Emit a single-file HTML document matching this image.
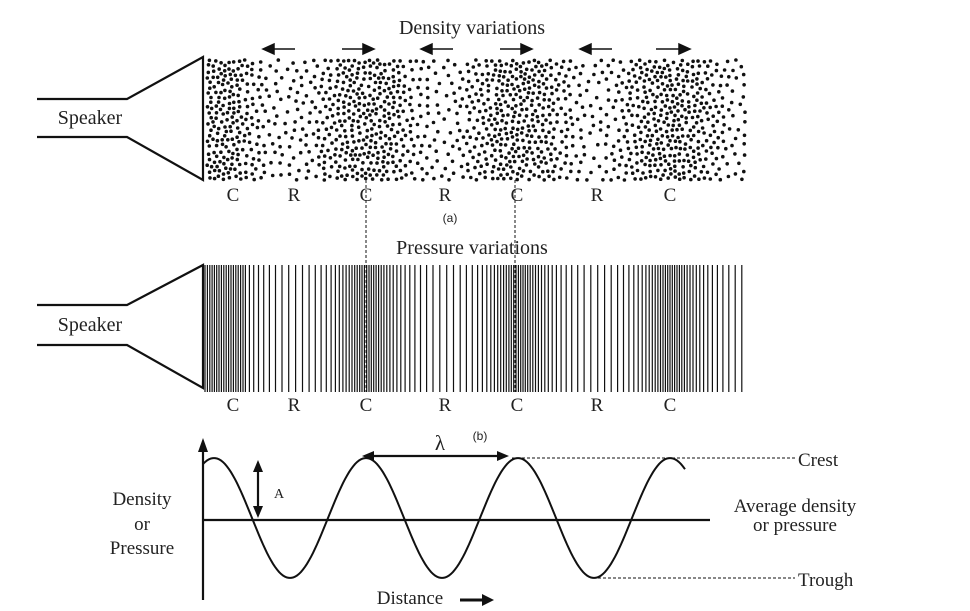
<!DOCTYPE html>
<html><head><meta charset="utf-8"><style>
html,body{margin:0;padding:0;background:#fff}
svg{display:block}
.s{font-family:"Liberation Serif",serif;fill:#222}
.a{font-family:"Liberation Sans",sans-serif;fill:#222;font-size:12px}
</style></head><body>
<svg id="sv" width="970" height="611" viewBox="0 0 970 611" xmlns="http://www.w3.org/2000/svg">
<g stroke="#111" stroke-width="2.2" fill="none">
<polyline points="37,99 127,99 203,57 203,180 127,137 37,137"/>
<polyline points="37,305 127,305 203,265 203,388 127,345 37,345"/>
<line x1="203" y1="445" x2="203" y2="600"/>
<line x1="203" y1="520" x2="710" y2="520"/>
<line x1="366" y1="456" x2="503" y2="456"/>
<line x1="258" y1="468" x2="258" y2="510"/>
<line x1="460" y1="600" x2="485" y2="600" stroke-width="3"/>
</g>
<g fill="#111">
<polygon points="203,438 198,452 208,452"/>
<polygon points="362,456 374,451 374,461"/>
<polygon points="509,456 497,451 497,461"/>
<polygon points="258,460 253,472 263,472"/>
<polygon points="258,518 253,506 263,506"/>
<polygon points="494,600 482,594 482,606"/>
</g>
<g stroke="#111" stroke-width="1" stroke-dasharray="3,2" fill="none">
<line x1="512" y1="458" x2="795" y2="458"/>
<line x1="598" y1="578" x2="795" y2="578"/>
<line x1="366" y1="180" x2="366" y2="392"/>
<line x1="515" y1="180" x2="515" y2="392"/>
</g>
<g id="dots" fill="#111"></g>
<g id="lines" stroke="#111" stroke-width="1.2"></g>
<path id="wave" fill="none" stroke="#111" stroke-width="2"/>
<g id="arr" stroke="#111" stroke-width="1.5" fill="#111"></g>
<text class="s" x="472" y="34" font-size="20" text-anchor="middle">Density variations</text>
<text class="s" x="472" y="254" font-size="20" text-anchor="middle">Pressure variations</text>
<text class="s" x="90" y="124" font-size="20" text-anchor="middle">Speaker</text>
<text class="s" x="90" y="331" font-size="20" text-anchor="middle">Speaker</text>
<g class="s" font-size="19" text-anchor="middle">
<text x="233" y="201">C</text><text x="294" y="201">R</text><text x="366" y="201">C</text><text x="445" y="201">R</text><text x="517" y="201">C</text><text x="597" y="201">R</text><text x="670" y="201">C</text>
<text x="233" y="411">C</text><text x="294" y="411">R</text><text x="366" y="411">C</text><text x="445" y="411">R</text><text x="517" y="411">C</text><text x="597" y="411">R</text><text x="670" y="411">C</text>
<text x="440" y="450" font-size="21">λ</text>
<text x="142" y="505">Density</text><text x="142" y="530">or</text><text x="142" y="554">Pressure</text>
<text x="795" y="512">Average density</text><text x="795" y="531">or pressure</text>
<text x="410" y="604">Distance</text>
</g>
<g class="s" font-size="19">
<text x="798" y="466">Crest</text><text x="798" y="586">Trough</text>
<text x="274" y="498" font-size="14">A</text>
</g>
<text class="a" x="450" y="222" text-anchor="middle">(a)</text>
<text class="a" x="480" y="440" text-anchor="middle">(b)</text>
</svg>
<script>
var ns="http://www.w3.org/2000/svg";
var seed=12345;function r(){seed=(seed*16807)%2147483647;return seed/2147483647;}
var P=152;
function dens(x){var d=Math.cos(2*Math.PI*(x-366)/P);return 0.3+0.7*(d+1)/2;}
var g=document.getElementById('dots');var pts=[];
for(var i=0;i<60000&&pts.length<2200;i++){var x=207+r()*538,y=60+r()*120;var md=4.4/Math.sqrt(dens(x));if(x<235)md=4.4;var ok=true;
for(var j=0;j<pts.length;j++){var dx=pts[j][0]-x,dy=pts[j][1]-y;if(dx*dx+dy*dy<md*md){ok=false;break;}}
if(ok){pts.push([x,y]);var c=document.createElementNS(ns,'circle');c.setAttribute('cx',x.toFixed(1));c.setAttribute('cy',y.toFixed(1));c.setAttribute('r','1.8');g.appendChild(c);}}
var gl=document.getElementById('lines');var x=205;
while(x<745){var l=document.createElementNS(ns,'line');l.setAttribute('x1',x.toFixed(1));l.setAttribute('x2',x.toFixed(1));l.setAttribute('y1','265');l.setAttribute('y2','392');gl.appendChild(l);
var d=Math.cos(2*Math.PI*(x-366)/P);var dx=2.3+4.6*(1-(d+1)/2);if(x<245)dx=Math.min(dx,2.4);x+=dx;}
var p='';for(var xx=203;xx<=686;xx+=2){var yy=518-60*Math.cos(2*Math.PI*(xx-366)/P);p+=(xx==203?'M':'L')+xx+','+yy.toFixed(1);}
document.getElementById('wave').setAttribute('d',p);
var ga=document.getElementById('arr');
function arrow(x1,x2,y){var dir=x2>x1?1:-1;var l=document.createElementNS(ns,'line');l.setAttribute('x1',x1);l.setAttribute('x2',x2-dir*8);l.setAttribute('y1',y);l.setAttribute('y2',y);ga.appendChild(l);
var t=document.createElementNS(ns,'polygon');t.setAttribute('points',x2+','+y+' '+(x2-dir*11)+','+(y-5)+' '+(x2-dir*11)+','+(y+5));ga.appendChild(t);}
arrow(295,263,49);arrow(342,374,49);arrow(453,421,49);arrow(500,532,49);arrow(612,580,49);arrow(656,690,49);
</script>
</body></html>
